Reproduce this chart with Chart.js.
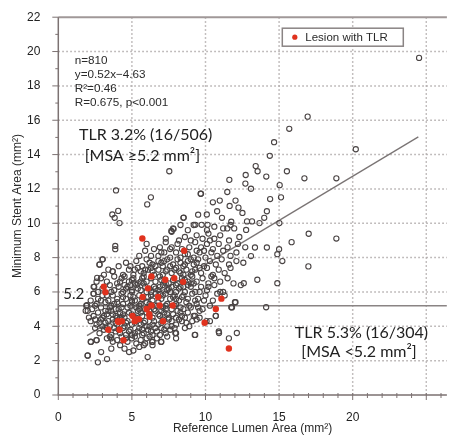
<!DOCTYPE html>
<html>
<head>
<meta charset="utf-8">
<script src="https://cdn.jsdelivr.net/npm/chart.js@4.4.0/dist/chart.umd.min.js"></script>
<style>
  html, body { margin: 0; padding: 0; background: #fff; }
  #wrap { width: 452px; height: 437px; position: relative; }
</style>
</head>
<body>
<div id="wrap"><canvas id="c"></canvas></div>
<script>
// tick labels
const xTicks = [0, 5, 10, 15, 20, 25];
const yTicks = [0, 2, 4, 6, 8, 10, 12, 14, 16, 18, 20, 22];
const cutoff = 5.2;

// regression line (as drawn)
const regLine = [[1.95, 3.46], [24.46, 15.03]];

// lesions with TLR (red)
const tlrPts = [
  [5.71, 9.11], [8.55, 8.40], [6.33, 6.90], [7.27, 6.71], [7.88, 6.80], [8.48, 6.59],
  [3.09, 6.30], [3.20, 5.99], [6.09, 6.21], [5.73, 5.71], [6.78, 5.71], [11.08, 5.61],
  [6.33, 5.21], [6.89, 5.21], [7.77, 5.21], [10.70, 5.01], [6.00, 5.01], [6.18, 4.71],
  [5.04, 4.61], [4.05, 4.30], [4.32, 4.30], [5.19, 4.30], [5.48, 4.42], [7.12, 4.30],
  [9.94, 4.21], [3.40, 3.80], [4.16, 3.80], [4.43, 3.19], [11.59, 2.71], [5.30, 4.40],
  [6.20, 4.55], [4.10, 4.25]
];

// scattered lesions away from the main cloud
const outlierPts = [
  [24.51, 19.63], [16.94, 16.21], [15.69, 15.50], [14.66, 14.72], [20.21, 14.31], [14.37, 13.93],
  [13.41, 13.33], [13.54, 13.03], [7.54, 13.03], [15.53, 13.03], [12.73, 12.81], [14.13, 12.72],
  [16.72, 12.62], [18.89, 12.62], [11.62, 12.53], [15.04, 12.22], [12.71, 12.31], [13.09, 12.01],
  [3.92, 11.91], [9.67, 11.72], [11.48, 11.82], [6.29, 11.51], [15.13, 11.51], [14.39, 11.41],
  [6.04, 11.10], [10.50, 11.22], [10.97, 11.32], [12.04, 11.32], [11.64, 11.01], [12.24, 10.91],
  [12.51, 10.60], [4.07, 10.72], [3.67, 10.51], [3.83, 10.32], [4.16, 10.01], [10.09, 10.51],
  [10.79, 10.70], [11.12, 10.32], [14.17, 10.70], [13.99, 10.32], [13.67, 10.01], [12.82, 10.11],
  [13.16, 10.11], [15.02, 10.01], [8.50, 10.32], [9.31, 9.91], [9.74, 9.91], [10.14, 9.91],
  [11.75, 10.09], [11.48, 9.70], [11.95, 9.70], [12.76, 9.61], [15.85, 8.90], [17.01, 9.39],
  [18.89, 9.11], [16.99, 7.49], [15.22, 7.80], [14.88, 8.20], [15.00, 8.49], [14.17, 8.59],
  [13.36, 8.59], [13.09, 8.09], [12.57, 7.70], [14.88, 6.51], [13.52, 6.71], [12.60, 6.51],
  [14.12, 5.11], [12.04, 5.40], [11.75, 5.11], [10.70, 4.61], [10.07, 4.30], [9.29, 4.61],
  [10.92, 3.61], [11.59, 3.30], [12.13, 3.61], [9.27, 3.50], [7.95, 3.61], [3.87, 8.49],
  [3.87, 8.68], [3.02, 7.90], [2.80, 7.59], [3.69, 7.20], [1.99, 2.29], [2.69, 1.90],
  [3.31, 2.09], [2.91, 2.50], [6.07, 2.21], [2.22, 3.09], [2.60, 3.19], [6.38, 3.09],
  [6.98, 3.09], [5.10, 2.59], [4.81, 2.50], [1.95, 5.23], [2.44, 6.30], [2.64, 6.82],
  [2.40, 5.90], [1.86, 4.90], [2.08, 4.51], [7.30, 9.11], [7.68, 9.55], [7.83, 9.66],
  [8.52, 10.33], [9.69, 11.72], [11.00, 6.00], [11.30, 5.80], [10.90, 3.70]
];

// main cloud, read band by band
const clusterPts = [
  [2.0, 2.3], [4.5, 2.7], [5.5, 2.8], [4.2, 2.9], [6.4, 2.9], [3.6, 2.7], [5.8, 2.9],
  [2.2, 3.1], [2.6, 3.2], [3.3, 3.3], [3.7, 3.1], [4.0, 3.2], [4.7, 3.1], [5.0, 3.3], [5.3, 3.0],
  [5.6, 3.2], [6.0, 3.3], [6.4, 3.1], [7.0, 3.1], [7.4, 3.4], [3.5, 3.4], [4.3, 3.4], [5.9, 3.0],
  [6.7, 3.3], [8.0, 3.3],
  [2.8, 3.6], [3.1, 3.8], [3.6, 3.5], [3.9, 3.7], [4.2, 3.6], [4.6, 3.5], [4.9, 3.8], [5.2, 3.6],
  [5.5, 3.9], [5.8, 3.6], [6.1, 3.8], [6.4, 3.5], [6.7, 3.7], [7.0, 3.9], [7.3, 3.6], [7.6, 3.8],
  [8.0, 3.6], [8.6, 3.9], [9.3, 3.5], [2.5, 3.9], [4.4, 3.9], [5.0, 3.5], [6.9, 3.5], [7.9, 3.9],
  [2.2, 4.3], [2.6, 4.1], [2.9, 4.4], [3.2, 4.2], [3.5, 4.0], [3.7, 4.4], [4.0, 4.1], [4.5, 4.0],
  [4.7, 4.3], [5.0, 4.1], [5.3, 4.4], [5.6, 4.1], [5.9, 4.3], [6.2, 4.0], [6.5, 4.3], [6.8, 4.1],
  [7.1, 4.4], [7.4, 4.0], [7.7, 4.3], [8.0, 4.1], [8.4, 4.3], [8.9, 4.0], [9.4, 4.4], [3.0, 4.0],
  [4.3, 4.4], [6.0, 4.0], [7.5, 4.4], [8.6, 4.5], [10.3, 4.3],
  [2.0, 4.9], [2.4, 4.6], [2.7, 4.8], [3.0, 4.5], [3.3, 4.7], [3.6, 4.9], [3.9, 4.6], [4.2, 4.8],
  [4.5, 4.5], [4.8, 4.8], [5.1, 4.6], [5.4, 4.9], [5.7, 4.6], [6.0, 4.8], [6.4, 4.5], [6.6, 4.9],
  [6.9, 4.6], [7.2, 4.8], [7.5, 4.5], [7.8, 4.7], [8.1, 4.9], [8.4, 4.6], [8.8, 4.8], [9.2, 4.6],
  [9.6, 4.9], [3.2, 4.9], [4.0, 4.5], [5.3, 4.5], [6.2, 4.7], [7.0, 4.9], [8.0, 4.5], [10.7, 4.6],
  [1.9, 5.2], [2.3, 5.0], [2.6, 5.3], [2.9, 5.1], [3.2, 5.4], [3.5, 5.1], [3.8, 5.3], [4.1, 5.0],
  [4.4, 5.3], [4.7, 5.1], [5.0, 5.4], [5.3, 5.1], [5.6, 5.3], [5.9, 5.0], [6.2, 5.3], [6.5, 5.0],
  [6.8, 5.4], [7.1, 5.1], [7.4, 5.3], [7.7, 5.0], [8.0, 5.3], [8.3, 5.1], [8.7, 5.4], [9.0, 5.1],
  [9.4, 5.3], [9.8, 5.0], [10.3, 5.2], [4.0, 5.4], [5.5, 5.0], [6.0, 5.4], [7.3, 5.0], [8.5, 5.0],
  [11.8, 5.1], [12.0, 5.4],
  [2.4, 5.9], [2.7, 5.6], [3.0, 5.8], [3.4, 5.5], [3.7, 5.8], [4.0, 5.6], [4.3, 5.9], [4.6, 5.6],
  [4.9, 5.8], [5.2, 5.5], [5.5, 5.8], [6.1, 5.7], [6.4, 5.5], [6.6, 5.9], [7.0, 5.6], [7.3, 5.9],
  [7.6, 5.6], [7.9, 5.8], [8.2, 5.5], [8.5, 5.8], [8.8, 5.6], [9.1, 5.9], [9.5, 5.6], [10.0, 5.8],
  [10.5, 5.5], [5.0, 5.5], [6.9, 5.9], [8.0, 5.6], [9.3, 5.5], [10.8, 5.9],
  [2.4, 6.3], [2.7, 6.0], [3.0, 6.2], [3.5, 6.4], [3.8, 6.1], [4.1, 6.3], [4.4, 6.0], [4.7, 6.3],
  [5.0, 6.1], [5.3, 6.4], [5.6, 6.1], [5.9, 6.3], [6.3, 6.0], [6.5, 6.3], [6.8, 6.1], [7.1, 6.4],
  [7.4, 6.1], [7.7, 6.3], [8.0, 6.0], [8.3, 6.3], [8.6, 6.0], [9.0, 6.3], [9.3, 6.0], [9.7, 6.3],
  [10.1, 6.1], [10.6, 6.4], [11.2, 6.0], [12.4, 6.4], [4.9, 6.4], [6.0, 6.0], [7.6, 6.0], [8.8, 6.4],
  [2.9, 6.8], [3.3, 6.6], [3.8, 6.9], [4.2, 6.6], [4.5, 6.9], [4.8, 6.6], [5.1, 6.8], [5.4, 6.5],
  [5.7, 6.8], [6.0, 6.6], [6.6, 6.6], [6.9, 6.9], [7.5, 6.5], [8.1, 6.5], [8.4, 6.8], [8.8, 6.6],
  [9.1, 6.9], [9.4, 6.6], [9.8, 6.8], [10.2, 6.5], [10.6, 6.8], [11.0, 6.6], [11.5, 6.8], [11.9, 6.5],
  [5.2, 6.5], [7.2, 6.6], [9.0, 6.5], [10.4, 6.9],
  [3.7, 7.2], [4.4, 7.0], [4.8, 7.3], [5.1, 7.0], [5.4, 7.4], [5.8, 7.1], [6.1, 7.3], [6.5, 7.0],
  [6.8, 7.3], [7.1, 7.0], [7.4, 7.3], [7.7, 7.1], [8.0, 7.4], [8.3, 7.1], [8.7, 7.3], [9.0, 7.0],
  [9.3, 7.3], [9.7, 7.1], [10.1, 7.4], [10.5, 7.0], [10.9, 7.3], [11.3, 7.1], [6.3, 7.4], [8.5, 7.0],
  [9.6, 7.4], [11.7, 7.4],
  [3.0, 7.9], [2.8, 7.6], [4.9, 7.5], [5.3, 7.8], [5.7, 7.5], [6.0, 7.9], [6.4, 7.6], [6.8, 7.8],
  [7.1, 7.5], [7.4, 7.9], [7.8, 7.6], [8.1, 7.9], [8.5, 7.5], [8.8, 7.8], [9.2, 7.6], [9.5, 7.9],
  [9.9, 7.5], [10.3, 7.8], [10.7, 7.6], [11.1, 7.9], [11.6, 7.6], [12.1, 7.8], [7.6, 7.5], [9.0, 7.9],
  [5.5, 8.1], [5.9, 8.4], [6.3, 8.1], [6.8, 8.1], [7.2, 8.3], [7.6, 8.0], [8.0, 8.3], [8.3, 8.0],
  [8.8, 8.2], [9.2, 8.0], [9.6, 8.3], [10.0, 8.0], [10.4, 8.3], [10.8, 8.1], [11.2, 8.4], [11.7, 8.1],
  [12.1, 8.3], [9.4, 8.4],
  [6.9, 8.6], [7.3, 8.9], [7.7, 8.6], [8.1, 8.8], [8.9, 8.6], [9.3, 8.9], [9.7, 8.6], [10.1, 8.8],
  [10.5, 8.5], [10.9, 8.8], [11.5, 8.6], [12.2, 8.8], [12.7, 8.6],
  [7.7, 9.5], [8.2, 9.0], [8.6, 9.2], [9.0, 9.0], [9.4, 9.3], [9.8, 9.1], [10.2, 9.4], [10.6, 9.1],
  [11.0, 9.3], [11.6, 9.0], [12.3, 9.2],
  [7.8, 9.7], [8.3, 9.9], [8.8, 9.6], [9.2, 9.9], [10.1, 9.6], [10.6, 9.8], [11.2, 9.7], [11.7, 9.9],
  [9.5, 10.5]
];

// extra points filling the densest core
const corePts = [
  [3.8, 3.9], [4.1, 3.8], [4.8, 3.7], [5.4, 3.7], [5.7, 3.8], [6.3, 3.7], [4.6, 4.2], [5.2, 4.2],
  [5.8, 4.2], [6.4, 4.1], [7.0, 4.2], [3.4, 4.3], [4.4, 4.7], [5.0, 4.7], [5.6, 4.8], [6.2, 4.9],
  [6.8, 4.7], [7.4, 4.7], [3.6, 5.2], [4.3, 5.1], [4.9, 5.2], [5.5, 5.2], [6.1, 5.1], [6.7, 5.2],
  [7.3, 5.2], [7.9, 5.2], [4.4, 5.7], [5.1, 5.7], [5.7, 5.6], [6.3, 5.8], [7.1, 5.8], [7.8, 5.7],
  [8.4, 5.7], [4.6, 6.2], [5.4, 6.2], [6.2, 6.2], [6.9, 6.3], [7.5, 6.2], [8.2, 6.2], [5.0, 6.7],
  [5.6, 6.6], [6.3, 6.8], [7.0, 6.7], [7.8, 6.7], [8.6, 6.7], [5.6, 7.2], [6.4, 7.2], [7.3, 7.2],
  [8.2, 7.2], [9.1, 7.2], [6.2, 7.7], [7.0, 7.7], [8.3, 7.7], [4.2, 4.5], [3.9, 5.0], [5.8, 6.9],
  [2.5, 4.4], [2.8, 4.2], [3.1, 4.6], [3.4, 4.9], [3.7, 4.7], [3.3, 3.9], [3.6, 3.3], [4.6, 3.3],
  [5.2, 3.4], [5.7, 3.5], [6.2, 3.4], [6.6, 3.9], [7.2, 3.8], [7.7, 4.0], [8.2, 4.4], [8.7, 4.2],
  [9.1, 4.3], [9.6, 4.5], [8.3, 4.8], [8.9, 5.2], [9.5, 5.1], [9.9, 5.5], [2.2, 5.5], [2.5, 5.2],
  [2.9, 5.5], [3.3, 5.8], [3.6, 6.0], [4.0, 6.5], [4.5, 6.4], [5.0, 6.0], [5.8, 6.5], [6.6, 6.2],
  [7.3, 6.5], [8.0, 6.4], [8.5, 6.3], [9.2, 6.5], [9.6, 6.0], [10.2, 6.3], [4.1, 7.5], [4.6, 7.7],
  [5.2, 7.3], [5.9, 7.3], [6.6, 7.5], [7.2, 7.8], [7.9, 7.3], [8.6, 7.6], [9.4, 7.7], [6.5, 8.5],
  [7.0, 8.3], [7.6, 8.5], [8.4, 8.5], [8.6, 8.2], [9.9, 8.4], [10.3, 9.0], [6.0, 8.8], [3.4, 7.3],
  [3.1, 7.0], [4.3, 6.8], [2.6, 6.6], [3.9, 4.2]
];

const toXY = arr => arr.map(p => ({ x: p[0], y: p[1] }));
const grayPts = toXY(clusterPts.concat(corePts, outlierPts));

const FONT = '"Liberation Sans", Arial, sans-serif';

const decor = {
  id: 'decor',
  beforeDatasetsDraw(chart) {
    const { ctx, chartArea: a, scales: { x, y } } = chart;
    ctx.save();
    // dotted grid
    ctx.strokeStyle = '#b0aaaa';
    ctx.lineWidth = 1.5;
    ctx.setLineDash([1.5, 2.5]);
    xTicks.forEach(v => {
      if (v === 0) return;
      const px = x.getPixelForValue(v);
      ctx.beginPath(); ctx.moveTo(px, a.top); ctx.lineTo(px, a.bottom); ctx.stroke();
    });
    yTicks.forEach(v => {
      if (v === 0 || v === 22) return;
      const py = y.getPixelForValue(v);
      ctx.beginPath(); ctx.moveTo(a.left, py); ctx.lineTo(a.right, py); ctx.stroke();
    });
    ctx.setLineDash([]);
    // top border
    ctx.strokeStyle = '#a09898';
    ctx.lineWidth = 2;
    const pTop = y.getPixelForValue(22);
    ctx.beginPath(); ctx.moveTo(a.left, pTop); ctx.lineTo(a.right, pTop); ctx.stroke();
    // axes
    ctx.strokeStyle = '#7c7272';
    ctx.lineWidth = 1.5;
    const p0x = x.getPixelForValue(0), p0y = y.getPixelForValue(0);
    ctx.beginPath(); ctx.moveTo(p0x, a.top); ctx.lineTo(p0x, p0y); ctx.lineTo(a.right, p0y); ctx.stroke();
    ctx.lineWidth = 1;
    for (let v = 0; v <= 22; v++) {
      const py = y.getPixelForValue(v);
      ctx.beginPath(); ctx.moveTo(p0x - (v % 2 === 0 ? 6 : 3), py); ctx.lineTo(p0x, py); ctx.stroke();
    }
    for (let v = 0; v <= 26; v++) {
      const px = x.getPixelForValue(v);
      ctx.beginPath(); ctx.moveTo(px, p0y - 2); ctx.lineTo(px, p0y + (v % 5 === 0 ? 5 : 3)); ctx.stroke();
    }
    ctx.restore();
  },
  afterDatasetsDraw(chart) {
    const { ctx, chartArea: a, scales: { x, y } } = chart;
    ctx.save();
    ctx.fillStyle = '#2a2a2a';
    ctx.textBaseline = 'middle';
    ctx.textAlign = 'left';
    ctx.font = '11.7px ' + FONT;
    const stats = ['n=810', 'y=0.52x\u22124.63', 'R\u00b2=0.46', 'R=0.675, p<0.001'];
    const statsY = [19.48, 18.62, 17.81, 17.0];
    stats.forEach((t, i) => ctx.fillText(t, x.getPixelForValue(1.12), y.getPixelForValue(statsY[i])));

    ctx.fillStyle = '#222';
    ctx.font = '16px Lato, "Open Sans", sans-serif';
    ctx.fillText('TLR 3.2% (16/506)', x.getPixelForValue(1.41), y.getPixelForValue(15.14));
    ctx.fillText('[MSA \u22655.2 mm\u00b2]', x.getPixelForValue(1.79), y.getPixelForValue(13.95));
    ctx.fillText('TLR 5.3% (16/304)', x.getPixelForValue(16.07), y.getPixelForValue(3.63));
    ctx.fillText('[MSA <5.2 mm\u00b2]', x.getPixelForValue(16.51), y.getPixelForValue(2.54));
    ctx.font = '15px Lato, "Open Sans", sans-serif';
    ctx.fillText('5.2', x.getPixelForValue(0.34), y.getPixelForValue(5.86));

    // legend box
    const lx = a.left + 224, ly = a.top + 11;
    ctx.fillStyle = '#fff';
    ctx.fillRect(lx, ly, 121, 18);
    ctx.strokeStyle = '#8a8484';
    ctx.lineWidth = 1.5;
    ctx.strokeRect(lx, ly, 121, 18);
    ctx.fillStyle = '#e0321e';
    ctx.beginPath(); ctx.arc(lx + 12.5, ly + 9, 2.6, 0, Math.PI * 2); ctx.fill();
    ctx.fillStyle = '#2a2a2a';
    ctx.font = '11.5px ' + FONT;
    ctx.fillText('Lesion with TLR', lx + 23, ly + 9.5);
    ctx.restore();
  }
};

new Chart(document.getElementById('c'), {
  type: 'scatter',
  data: {
    datasets: [
      {
        label: 'Lesion with TLR',
        data: toXY(tlrPts),
        backgroundColor: '#e0321e',
        borderWidth: 0,
        pointRadius: 3.2,
        order: 1,
      },
      {
        label: 'Lesion',
        data: grayPts,
        backgroundColor: 'rgba(255,255,255,0)',
        borderColor: '#4a4444',
        borderWidth: 1.1,
        pointRadius: 2.6,
        order: 2,
      },
      {
        type: 'line',
        label: 'fit',
        data: toXY(regLine),
        borderColor: '#7a7474',
        borderWidth: 1.3,
        pointRadius: 0,
        fill: false,
        order: 3,
      },
      {
        type: 'line',
        label: 'cutoff',
        data: [{ x: 0, y: cutoff }, { x: 26.4, y: cutoff }],
        borderColor: '#8a8484',
        borderWidth: 1.6,
        pointRadius: 0,
        fill: false,
        order: 4,
      },
    ],
  },
  options: {
    responsive: true,
    maintainAspectRatio: false,
    animation: false,
    layout: { padding: { top: 13, right: 0, left: 0, bottom: 0 } },
    plugins: {
      legend: { display: false },
      tooltip: { enabled: false },
    },
    scales: {
      x: {
        type: 'linear',
        min: 0,
        max: 26.4,
        grid: { display: false },
        border: { display: false },
        ticks: { stepSize: 5, color: '#222', font: { size: 12, family: FONT }, padding: 7, maxRotation: 0 },
        afterBuildTicks: s => { s.ticks = s.ticks.filter(t => t.value % 5 === 0); },
        afterFit: s => { s.height = 42; },
        title: {
          display: true,
          text: 'Reference Lumen Area (mm\u00b2)',
          color: '#2a2a2a',
          font: { size: 12, family: FONT },
          padding: { top: 0, bottom: 1 },
        },
      },
      y: {
        min: 0,
        max: 22,
        grid: { display: false },
        border: { display: false },
        ticks: { stepSize: 2, color: '#222', font: { size: 12, family: FONT }, padding: 10 },
        afterFit: s => { s.width = 58.3; },
        title: {
          display: true,
          text: 'Minimum Stent Area (mm\u00b2)',
          color: '#2a2a2a',
          font: { size: 12, family: FONT },
          padding: { top: 10, bottom: 0 },
        },
      },
    },
  },
  plugins: [decor],
});
</script>
</body>
</html>
